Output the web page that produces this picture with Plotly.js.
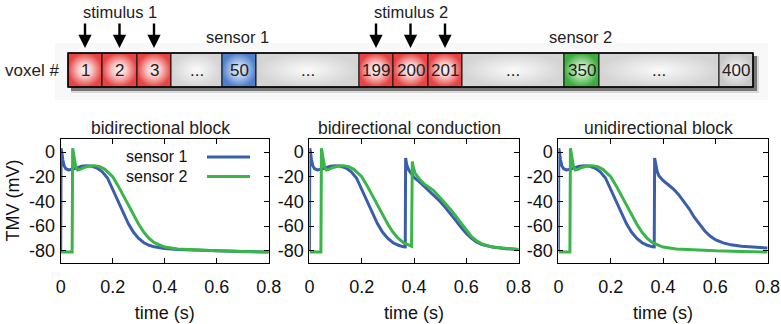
<!DOCTYPE html>
<html><head><meta charset="utf-8">
<script src="https://cdn.plot.ly/plotly-3.0.1.min.js"></script>
<style>html,body{margin:0;padding:0;background:#fff}</style>
</head><body><div id="chart" style="width:781px;height:324px"></div>
<script>
// ---------------- data ----------------
const panelTitles = ['bidirectional block', 'bidirectional conduction', 'unidirectional block'];
const seriesNames = ['sensor 1', 'sensor 2'];
const xTitle = 'time (s)';
const yTitle = 'TMV (mV)';
const xTickVals = [0, 0.2, 0.4, 0.6, 0.8];
const xTickText = ['0', '0.2', '0.4', '0.6', '0.8'];
const yTickVals = [0, -20, -40, -60, -80];
const yTickText = ['0', '-20', '-40', '-60', '-80'];

// sensor 1, first action potential (s, mV)
const ap1T = [0, 0.0015, 0.004, 0.008, 0.013, 0.02, 0.03, 0.045, 0.06, 0.08, 0.1, 0.12, 0.14, 0.16, 0.18, 0.2, 0.22, 0.24, 0.26, 0.28, 0.3, 0.32, 0.34, 0.36, 0.38, 0.4, 0.45, 0.5, 0.6, 0.7, 0.8];
const ap1V = [-80, 3, 0, -6, -11, -13.5, -14.5, -14, -13, -11.5, -11, -11.5, -13, -16, -21, -30, -39.5, -49, -58, -65, -70, -73.5, -75.5, -76.8, -77.6, -78.2, -79, -79.5, -80, -80.5, -81];
// sensor 2, first action potential
const ap2T = [0, 0.044, 0.046, 0.049, 0.053, 0.058, 0.065, 0.075, 0.09, 0.11, 0.13, 0.15, 0.17, 0.19, 0.2, 0.22, 0.24, 0.26, 0.28, 0.3, 0.32, 0.34, 0.36, 0.38, 0.4, 0.45, 0.5, 0.6, 0.7, 0.8];
const ap2V = [-81, -81, 3, -1, -7, -12, -14.5, -14, -12.5, -11.3, -11, -11.8, -14, -17.5, -20, -27, -35, -43, -51, -58.5, -65, -70, -73.5, -75.5, -77, -78.5, -79.2, -80, -80.5, -81];
// bidirectional conduction: second excitation, sensor 1
const cond1T = [0.3665, 0.368, 0.372, 0.38, 0.389, 0.4, 0.42, 0.44, 0.46, 0.48, 0.5, 0.52, 0.54, 0.56, 0.58, 0.6, 0.62, 0.64, 0.66, 0.7, 0.75, 0.8];
const cond1V = [-76.9, -4.9, -10, -14.5, -17.5, -20.5, -24, -28, -31.5, -35.5, -40, -45, -50, -55.5, -61, -66, -70, -73, -75, -77, -78.3, -79];
// bidirectional conduction: second excitation, sensor 2
const cond2T = [0.3905, 0.3935, 0.397, 0.404, 0.423, 0.44, 0.46, 0.474, 0.5, 0.52, 0.54, 0.56, 0.58, 0.6, 0.62, 0.64, 0.66, 0.7, 0.75, 0.8];
const cond2V = [-76.3, -7.6, -12, -17, -22.5, -26, -29, -31, -37, -41.5, -46.5, -52, -57.5, -63.5, -68.5, -72, -74.5, -77, -78.3, -79];
// unidirectional block: second excitation, sensor 1 only
const uni1T = [0.3665, 0.368, 0.372, 0.378, 0.385, 0.4, 0.42, 0.44, 0.46, 0.48, 0.5, 0.52, 0.54, 0.56, 0.58, 0.6, 0.63, 0.66, 0.7, 0.75, 0.8];
const uni1V = [-76.9, -4.9, -11, -16, -19.5, -23, -26.5, -30, -34.5, -40, -46, -53, -59, -64, -68, -71, -73.6, -75.2, -76.3, -77.2, -77.8];

// schematic
const voxelLabels = ['1', '2', '3', '...', '50', '...', '199', '200', '201', '...', '350', '...', '400'];
const voxelKinds = ['stim', 'stim', 'stim', 'gap', 'sensor1', 'gap', 'stim', 'stim', 'stim', 'gap', 'sensor2', 'gap', 'end'];
const stimulusLabels = ['stimulus 1', 'stimulus 2'];
const sensorLabels = ['sensor 1', 'sensor 2'];
const rowLabel = 'voxel #';

// ---------------- layout constants (pixels) ----------------
const W = 781, H = 324;
const fx = x => x / W, fy = y => 1 - y / H;
const cellEdges = [68, 102, 137, 171, 222, 256, 359, 393, 428, 462, 564, 599, 719, 753];
const barTop = 53, barBot = 87;
const plotX = [[60.7, 268.7], [309.4, 518.6], [558.4, 767.6]];
const plotY = [138.5, 262.5];
const FONT = 'Liberation Sans, Arial, sans-serif';
const BLUE = '#3b5eac', GREEN = '#3ab54a';
const kindScale = {
  stim: [[0, '#fff6f6'], [0.4, '#f9caca'], [1, '#e84444']],
  sensor1: [[0, '#e6eef9'], [0.4, '#b9cdee'], [1, '#4f7fcb']],
  sensor2: [[0, '#e0f6e0'], [0.4, '#b0e2b0'], [1, '#3cac3c']],
  gap: [[0, '#fafafa'], [1, '#d4d4d4']],
  end: [[0, '#f7f7f7'], [1, '#c8c8c8']]
};

function joinAP(tA, vA, cut, tB, vB) {
  const t = [], v = [];
  tA.forEach((tt, i) => { if (tt < cut) { t.push(tt); v.push(vA[i]); } });
  return { t: t.concat(tB), v: v.concat(vB) };
}

const p2b = joinAP(ap1T, ap1V, 0.3665, cond1T, cond1V);
const p2g = joinAP(ap2T, ap2V, 0.3905, cond2T, cond2V);
const p3b = joinAP(ap1T, ap1V, 0.3665, uni1T, uni1V);

const panels = [
  [{ t: ap1T, v: ap1V }, { t: ap2T, v: ap2V }],
  [p2b, p2g],
  [p3b, { t: ap2T, v: ap2V }]
];

const traces = [];
panels.forEach((pair, k) => {
  const ax = k === 0 ? '' : String(k + 1);
  pair.forEach((s, j) => {
    traces.push({
      type: 'scatter', mode: 'lines', x: s.t, y: s.v,
      name: seriesNames[j], showlegend: false,
      xaxis: 'x' + ax, yaxis: 'y' + ax,
      line: { color: j === 0 ? BLUE : GREEN, width: 3 },
      hoverinfo: 'skip'
    });
  });
});

// schematic cells
voxelLabels.forEach((lab, i) => {
  const x0 = cellEdges[i], x1 = cellEdges[i + 1];
  traces.push({
    type: 'scatter', mode: 'lines', xaxis: 'x4', yaxis: 'y4',
    x: [x0, x1, x1, x0, x0], y: [barTop, barTop, barBot, barBot, barTop],
    fill: 'toself',
    fillgradient: { type: 'radial', colorscale: kindScale[voxelKinds[i]] },
    line: { color: '#111', width: 1 },
    showlegend: false, hoverinfo: 'skip'
  });
});

const annotations = [];
const tfont = { family: FONT, size: 17.5, color: '#222' };
const titleX = [160.5, 409, 658.3];
panelTitles.forEach((t, k) => annotations.push({
  xref: 'paper', yref: 'paper', x: fx(titleX[k]), y: fy(128), text: t, showarrow: false,
  xanchor: 'center', yanchor: 'middle', font: tfont
}));
// legend (text left of sample line)
seriesNames.forEach((n, j) => annotations.push({
  xref: 'paper', yref: 'paper', x: fx(189), y: fy(157 + j * 19.5), text: n, showarrow: false,
  xanchor: 'right', yanchor: 'middle', font: { family: FONT, size: 16, color: '#111' }
}));
// schematic text
const dfont = { family: FONT, size: 16.5, color: '#222' };
voxelLabels.forEach((lab, i) => annotations.push({
  xref: 'x4', yref: 'y4', x: (cellEdges[i] + cellEdges[i + 1]) / 2, y: 70, text: lab,
  showarrow: false, xanchor: 'center', yanchor: 'middle', font: { family: FONT, size: 17, color: '#222' }
}));
annotations.push({ xref: 'x4', yref: 'y4', x: 32, y: 70, text: rowLabel, showarrow: false,
  xanchor: 'center', yanchor: 'middle', font: { family: FONT, size: 17, color: '#222' } });
const stimCells = [[0, 1, 2], [6, 7, 8]];
stimulusLabels.forEach((s, k) => {
  const cells = stimCells[k];
  const cx = (cellEdges[cells[0]] + cellEdges[cells[2] + 1]) / 2;
  annotations.push({ xref: 'x4', yref: 'y4', x: cx, y: 12, text: s, showarrow: false,
    xanchor: 'center', yanchor: 'middle', font: dfont });
  cells.forEach(c => annotations.push({
    xref: 'x4', yref: 'y4', x: (cellEdges[c] + cellEdges[c + 1]) / 2, y: 48, text: '',
    showarrow: true, arrowhead: 2, arrowsize: 1.1, arrowwidth: 2.4, arrowcolor: '#000',
    ax: 0, ay: -26
  }));
});
const sensorTextX = [237, 580];
sensorLabels.forEach((s, k) => annotations.push({
  xref: 'x4', yref: 'y4', x: sensorTextX[k], y: 37, text: s, showarrow: false,
  xanchor: 'center', yanchor: 'middle', font: dfont
}));

const shapes = [
  { type: 'rect', xref: 'x4', yref: 'y4', x0: 55, x1: 768, y0: 43, y1: 108, fillcolor: '#f8f8f8', line: { width: 0 }, layer: 'below' },
  { type: 'rect', xref: 'x4', yref: 'y4', x0: 71, x1: 759, y0: 56, y1: 93, fillcolor: 'rgba(0,0,0,0.12)', line: { width: 0 }, layer: 'below' },
  { type: 'rect', xref: 'x4', yref: 'y4', x0: 71, x1: 757, y0: 56, y1: 91, fillcolor: 'rgba(0,0,0,0.45)', line: { width: 0 }, layer: 'below' },
  { type: 'rect', xref: 'x4', yref: 'y4', x0: cellEdges[0], x1: cellEdges[cellEdges.length - 1], y0: barTop, y1: barBot, line: { color: '#000', width: 1.5 }, layer: 'above' }
];
seriesNames.forEach((n, j) => shapes.push({
  type: 'line', xref: 'paper', yref: 'paper', x0: fx(207), x1: fx(250), y0: fy(157 + j * 19.5), y1: fy(157 + j * 19.5),
  line: { color: j === 0 ? BLUE : GREEN, width: 3 }
}));

const layout = {
  width: W, height: H, margin: { l: 0, r: 0, t: 0, b: 0 },
  paper_bgcolor: '#fff', plot_bgcolor: 'rgba(0,0,0,0)',
  font: { family: FONT, size: 18, color: '#111' },
  showlegend: false, annotations, shapes,
  xaxis4: { domain: [0, 1], range: [0, W], visible: false, anchor: 'y4', fixedrange: true },
  yaxis4: { domain: [1 - 100 / H, 1], range: [100, 0], visible: false, anchor: 'x4', fixedrange: true }
};
plotX.forEach((px, k) => {
  const s = k === 0 ? '' : String(k + 1);
  layout['xaxis' + s] = {
    domain: [fx(px[0]), fx(px[1])], range: [0, 0.8], anchor: 'y' + s,
    tickvals: xTickVals, ticktext: xTickText, ticks: 'inside', ticklen: 5, tickwidth: 1, tickcolor: '#000',
    mirror: 'allticks', showline: true, linecolor: '#000', linewidth: 1, showgrid: false, zeroline: false,
    tickfont: { family: FONT, size: 18, color: '#111' }, ticklabelstandoff: 8,
    title: { text: xTitle, standoff: 10, font: { family: FONT, size: 18, color: '#111' } }, automargin: false
  };
  layout['yaxis' + s] = {
    domain: [fy(plotY[1]), fy(plotY[0])], range: [-89.5, 11], anchor: 'x' + s,
    tickvals: yTickVals, ticktext: yTickText, ticks: 'inside', ticklen: 5, tickwidth: 1, tickcolor: '#000',
    mirror: 'allticks', showline: true, linecolor: '#000', linewidth: 1, showgrid: false, zeroline: false,
    tickfont: { family: FONT, size: 18, color: '#111' }, ticklabelstandoff: 1, automargin: false,
    title: k === 0 ? { text: yTitle, standoff: 4, font: { family: FONT, size: 18, color: '#111' } } : { text: '' }
  };
});

Plotly.newPlot('chart', traces, layout, { staticPlot: true, displayModeBar: false });
</script></body></html>
